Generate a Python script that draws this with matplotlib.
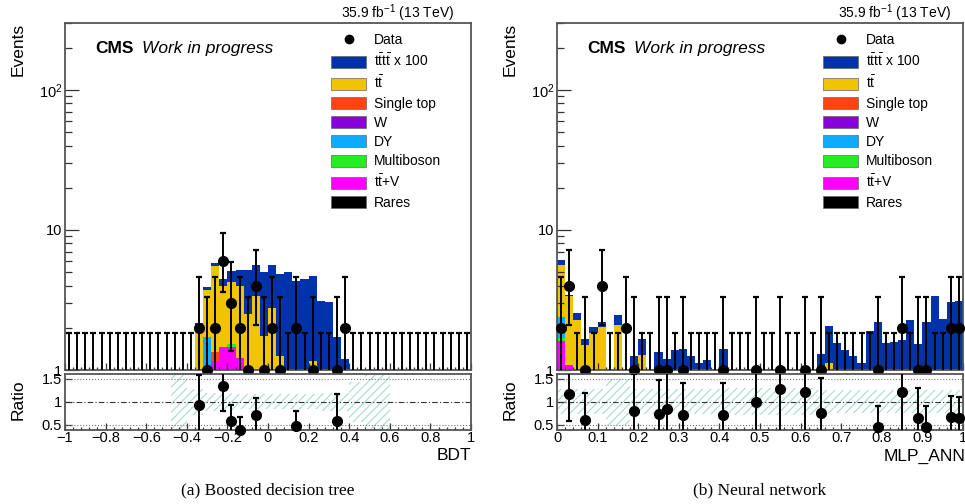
import math
import numpy as np
import matplotlib
matplotlib.use('Agg')
import matplotlib.pyplot as plt
from matplotlib.lines import Line2D
from matplotlib.patches import Patch
from matplotlib.ticker import FixedLocator, FixedFormatter, NullFormatter

plt.rcParams['font.family'] = ['Liberation Sans', 'DejaVu Sans']
plt.rcParams['mathtext.fontset'] = 'custom'
plt.rcParams['mathtext.rm'] = 'Liberation Sans'
plt.rcParams['mathtext.it'] = 'Liberation Sans:italic'
plt.rcParams['mathtext.bf'] = 'Liberation Sans:bold'
plt.rcParams['hatch.linewidth'] = 0.8

# (a) BDT output, 50 bins in [-1, 1]; dicts are {bin index: content}
bdt_data = [0] * 16 + [2, 1, 2, 6, 3, 2, 1, 4, 1, 2, 1, 0, 2, 0, 1, 0, 0, 1, 2] + [0] * 15
bdt_rares = {}
bdt_ttv = {18: 1.15, 19: 1.47, 20: 1.45, 21: 1.21}
bdt_multiboson = {20: 0.08}
bdt_dy = {17: 1.73}
bdt_w = {}
bdt_single_top = {18: 0.2}
bdt_tt = {16: 2.1, 17: 2.0, 18: 4.2, 19: 2.5, 20: 2.7, 21: 2.8, 22: 2.5, 23: 3.4,
          24: 1.75, 25: 2.75, 26: 1.25, 30: 1.15}
bdt_tttt = {16: 0.05, 17: 0.17, 18: 0.25, 19: 0.48, 20: 0.87, 21: 1.19, 22: 2.7, 23: 2.2,
            24: 3.25, 25: 2.85, 26: 3.6, 27: 5.0, 28: 4.3, 29: 4.45, 30: 3.55, 31: 3.1,
            32: 3.05, 33: 1.72, 34: 1.19}
# relative MC uncertainty shown as hatched band in the ratio
bdt_band = {13: 1.0, 14: 1.0, 15: 0.28, 16: 0.28, 17: 0.2, 18: 0.2, 19: 0.2, 20: 0.2,
            21: 0.16, 22: 0.16, 23: 0.16, 24: 0.16, 25: 0.16, 26: 0.16, 27: 0.16, 28: 0.16,
            29: 0.16, 30: 0.16, 31: 0.2, 32: 0.2, 33: 0.2, 34: 0.2, 35: 0.44, 36: 0.44,
            37: 1.0, 38: 1.0, 39: 1.0}

# (b) MLP_ANN output, 50 bins in [0, 1]
mlp_data = [2, 4, 0, 1, 0, 4, 0, 0, 2, 1, 0, 0, 1, 1, 0, 1, 0, 0, 0, 0,
            1, 0, 0, 0, 1, 0, 0, 1, 0, 0, 1, 0, 1, 0, 0, 0, 0, 0, 0, 1,
            0, 0, 2, 0, 1, 1, 0, 0, 2, 2]
mlp_rares = {}
mlp_ttv = {0: 1.6, 1: 1.08}
mlp_multiboson = {0: 0.08}
mlp_dy = {0: 0.72}
mlp_w = {}
mlp_single_top = {}
mlp_tt = {0: 3.2, 1: 2.27, 2: 2.26, 3: 1.5, 4: 1.83, 5: 2.02, 7: 2.1, 10: 1.28, 33: 1.12}
mlp_tttt = {0: 0.45, 1: 0.1, 2: 0.31, 3: 0.17, 4: 0.19, 5: 0.19, 7: 0.38, 9: 1.25, 10: 0.38,
            12: 1.35, 13: 1.2, 14: 1.39, 15: 1.41, 16: 1.26, 17: 1.12, 18: 1.17, 20: 1.41,
            21: 1.02, 24: 1.0, 27: 0.78, 30: 0.83, 32: 1.31, 33: 0.94, 34: 1.57, 35: 1.39,
            36: 1.26, 37: 1.12, 38: 1.9, 39: 2.2, 40: 1.55, 41: 1.58, 42: 1.65, 43: 2.26,
            44: 1.54, 45: 2.2, 46: 3.4, 47: 2.3, 48: 3.05, 49: 3.1}
mlp_band = {0: 0.27, 1: 0.27, 2: 0.27, 3: 0.27, 4: 0.27, 5: 0.27, 6: 0.5, 7: 0.5, 8: 0.5,
            9: 0.27, 10: 0.27, 11: 0.27, 12: 0.27, 13: 0.27, 14: 0.27, 15: 0.27, 16: 0.27,
            17: 0.27, 18: 0.27, 19: 0.27, 20: 0.27, 21: 0.3, 22: 0.3, 23: 0.3, 24: 0.3,
            25: 0.3, 26: 0.3, 27: 0.3, 28: 0.3, 29: 0.3, 30: 0.3, 31: 0.3, 32: 0.25, 33: 0.25,
            34: 0.25, 35: 0.25, 36: 0.25, 37: 0.25, 38: 0.25, 39: 0.25, 40: 0.25, 41: 0.25,
            42: 0.25, 43: 0.25, 44: 0.25, 45: 0.25, 46: 0.25, 47: 0.25, 48: 0.25, 49: 0.25}

bdt_ticks = [-1, -0.8, -0.6, -0.4, -0.2, 0, 0.2, 0.4, 0.6, 0.8, 1]
bdt_ticklabels = ['\u22121', '\u22120.8', '\u22120.6', '\u22120.4', '\u22120.2', '0',
                  '0.2', '0.4', '0.6', '0.8', '1']
mlp_ticks = [0, 0.1, 0.2, 0.3, 0.4, 0.5, 0.6, 0.7, 0.8, 0.9, 1]
mlp_ticklabels = ['0', '0.1', '0.2', '0.3', '0.4', '0.5', '0.6', '0.7', '0.8', '0.9', '1']

labels = ['Rares', r'$\mathrm{t\bar{t}}$+V', 'Multiboson', 'DY', 'W', 'Single top',
          r'$\mathrm{t\bar{t}}$', r'$\mathrm{t\bar{t}t\bar{t}}$ x 100']
colors = ['#000000', '#ff00ff', '#22ee22', '#10aaff', '#8800dd', '#ff4411', '#f0c400', '#0033aa']
NB = 50
FRAME = '#555555'


def garwood(n):
    a = 0.5 * (1 - 0.682689)
    def cdf(k, mu):
        return sum(math.exp(-mu) * mu ** i / math.factorial(i) for i in range(k + 1))
    def solve(f, target):
        lo, hi = 0.0, 60.0
        for _ in range(80):
            mid = 0.5 * (lo + hi)
            if f(mid) > target:
                lo = mid
            else:
                hi = mid
        return 0.5 * (lo + hi)
    up = solve(lambda m: cdf(n, m), a)
    dn = 0.0 if n == 0 else solve(lambda m: cdf(n - 1, m), 1 - a)
    return dn, up


def to_array(d):
    arr = np.zeros(NB)
    for k, v in d.items():
        arr[k] = v
    return arr


def style_axis(ax):
    for s in ax.spines.values():
        s.set_color(FRAME)
        s.set_linewidth(1.3)
    ax.tick_params(which='both', direction='in', top=False, right=False, color='#333333',
                   labelsize=10.5, width=0.9)


def draw_panel(left, edges, data, comps, band, ticks, ticklabels, minor_step, xlabel, xlabel_x, lumi_x):
    ax = fig.add_axes([left / 965, 134 / 504, 406 / 965, 347 / 504])
    axr = fig.add_axes([left / 965, 74 / 504, 406 / 965, 56.5 / 504])
    centers = 0.5 * (edges[1:] + edges[:-1])
    data = np.array(data)

    # stacked MC
    cum = np.zeros(NB)
    for comp, color in zip(comps, colors):
        top = cum + to_array(comp)
        ax.stairs(np.maximum(top, 0.1), edges, baseline=np.maximum(cum, 0.1), fill=True,
                  facecolor=color, edgecolor='none', lw=0)
        cum = top

    # data with Poisson intervals
    for x, n in zip(centers, data):
        lo, hi = garwood(int(n))
        ax.vlines(x, max(lo, 0.5), hi, color='black', lw=1.4, zorder=4)
        ax.plot([x], [hi], marker='_', ms=4, mew=1.6, color='black', zorder=4)
        if lo > 1:
            ax.plot([x], [lo], marker='_', ms=4, mew=1.6, color='black', zorder=4)
        if n > 0:
            ax.plot([x], [n], marker='o', ms=7, color='black', ls='none', zorder=5, clip_on=False)

    ax.set_yscale('log')
    ax.set_xlim(edges[0], edges[-1])
    ax.set_ylim(1, 300)
    style_axis(ax)
    ax.yaxis.set_major_locator(FixedLocator([1, 10, 100]))
    ax.yaxis.set_major_formatter(FixedFormatter(['1', '10', '$10^{2}$']))
    ax.yaxis.set_minor_locator(FixedLocator([2, 3, 4, 5, 6, 7, 8, 9, 20, 30, 40, 50, 60, 70, 80, 90, 200, 300]))
    ax.yaxis.set_minor_formatter(NullFormatter())
    ax.tick_params(axis='y', which='major', length=10, pad=2)
    ax.tick_params(axis='y', which='minor', length=5)
    ax.xaxis.set_major_locator(FixedLocator(ticks))
    ax.xaxis.set_minor_locator(FixedLocator(np.arange(edges[0], edges[-1] + 1e-9, minor_step)))
    ax.tick_params(axis='x', which='major', length=5, labelbottom=False)
    ax.tick_params(axis='x', which='minor', length=2.5)

    ax.text(-47 / 406, 1.0, 'Events', rotation=90, ha='center', va='top', fontsize=12.5,
            transform=ax.transAxes)
    ax.text(0.074, 0.9135, 'CMS', fontsize=12.5, fontweight='bold', va='baseline',
            transform=ax.transAxes)
    ax.text(0.19, 0.9135, 'Work in progress', fontsize=12.5, fontstyle='italic', va='baseline',
            transform=ax.transAxes)
    ax.text(lumi_x, 1.014, r'35.9 fb$^{-1}$ (13 TeV)', fontsize=10, ha='right', va='baseline',
            transform=ax.transAxes)

    handles = [Line2D([], [], marker='o', color='black', ls='none', ms=6)]
    for lab, col in zip(labels[::-1], colors[::-1]):
        handles.append(Patch(facecolor=col, edgecolor='#666666', lw=0.5, label=lab))
    ax.legend(handles, ['Data'] + labels[::-1], loc='upper left', bbox_to_anchor=(0.656, 0.97),
              frameon=False, fontsize=10, handlelength=2.5, handleheight=0.95,
              labelspacing=0.38, handletextpad=0.55, borderpad=0, borderaxespad=0)

    # ratio panel
    total = cum
    for k, u in band.items():
        axr.fill_between([edges[k], edges[k + 1]], 1 - u, 1 + u, facecolor='none',
                         edgecolor='#a6dcd3', hatch='////', lw=0)
    axr.axhline(1, color='#333333', lw=0.8, ls=(0, (5, 2, 1, 2)))
    axr.axhline(0.5, color='#777777', lw=0.8, ls=':')
    axr.axhline(1.5, color='#777777', lw=0.8, ls=':')
    y0, y1 = 0.38, 1.62
    for x, n, t in zip(centers, data, total):
        if n <= 0 or t <= 0:
            continue
        r = n / t
        if r < y0 or r > y1:
            continue
        e = math.sqrt(n) / t
        axr.vlines(x, r - e, r + e, color='black', lw=1.4, zorder=4)
        for yc in (r - e, r + e):
            if y0 < yc < y1:
                axr.plot([x], [yc], marker='_', ms=4, mew=1.6, color='black', zorder=4)
        axr.plot([x], [r], marker='o', ms=7, color='black', zorder=5, clip_on=False)
    axr.set_xlim(edges[0], edges[-1])
    axr.set_ylim(y0, y1)
    style_axis(axr)
    axr.yaxis.set_major_locator(FixedLocator([0.5, 1, 1.5]))
    axr.yaxis.set_major_formatter(FixedFormatter(['0.5', '1', '1.5']))
    axr.tick_params(axis='y', which='major', length=5, pad=2)
    axr.xaxis.set_major_locator(FixedLocator(ticks))
    axr.xaxis.set_major_formatter(FixedFormatter(ticklabels))
    axr.xaxis.set_minor_locator(FixedLocator(np.arange(edges[0], edges[-1] + 1e-9, minor_step)))
    axr.tick_params(axis='x', which='major', length=5, pad=1)
    axr.tick_params(axis='x', which='minor', length=2.5)
    axr.text(-47 / 406, 0.9, 'Ratio', rotation=90, ha='center', va='top', fontsize=12.5,
             transform=axr.transAxes)
    axr.text(xlabel_x, -0.46, xlabel, ha='right', va='center', fontsize=12.5,
             transform=axr.transAxes)


fig = plt.figure(figsize=(9.65, 5.04), dpi=100)

bdt_edges = np.linspace(-1, 1, NB + 1)
mlp_edges = np.linspace(0, 1, NB + 1)
draw_panel(65, bdt_edges, bdt_data,
           [bdt_rares, bdt_ttv, bdt_multiboson, bdt_dy, bdt_w, bdt_single_top, bdt_tt, bdt_tttt],
           bdt_band, bdt_ticks, bdt_ticklabels, 0.04, 'BDT', 1.0, 0.958)
draw_panel(557, mlp_edges, mlp_data,
           [mlp_rares, mlp_ttv, mlp_multiboson, mlp_dy, mlp_w, mlp_single_top, mlp_tt, mlp_tttt],
           mlp_band, mlp_ticks, mlp_ticklabels, 0.02, 'MLP_ANN', 1.007, 0.97)

fig.text(268 / 965, 1 - 490 / 504, '(a) Boosted decision tree', ha='center', va='center',
         family='Liberation Serif', fontsize=12.5)
fig.text(760 / 965, 1 - 490 / 504, '(b) Neural network', ha='center', va='center',
         family='Liberation Serif', fontsize=12.5)

fig.savefig('out.png', dpi=100)
